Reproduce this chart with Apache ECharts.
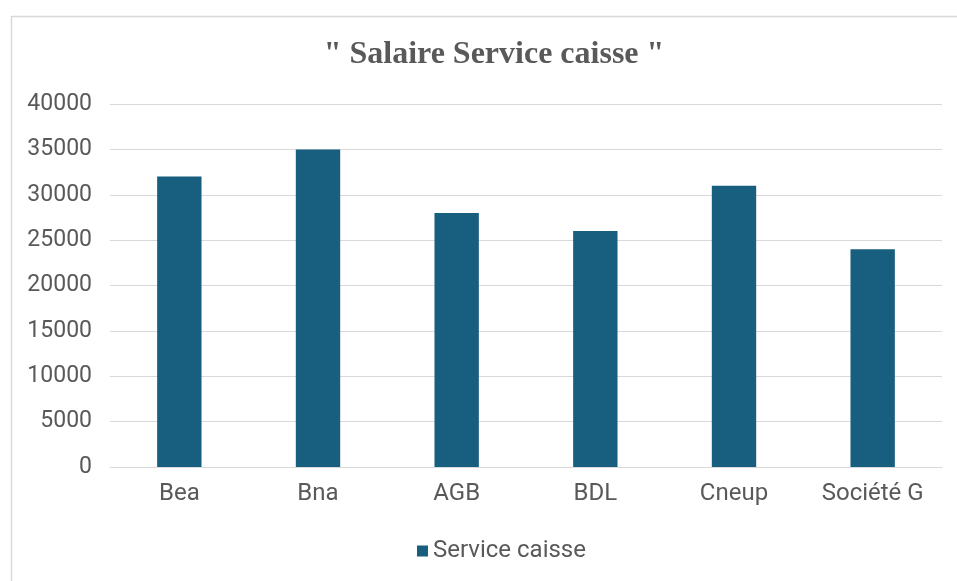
<!DOCTYPE html>
<html><head><meta charset="utf-8">
<script src="https://cdn.jsdelivr.net/npm/echarts@6/dist/echarts.min.js"></script>
<style>html,body{margin:0;padding:0;background:#fff}#c{width:957px;height:581px}</style>
</head><body><div id="c"></div>
<script>
const categories = ['Bea', 'Bna', 'AGB', 'BDL', 'Cneup', 'Société G'];
const serviceCaisse = [32000, 35000, 28000, 26000, 31000, 24000];
const seriesName = 'Service caisse';
const titleText = '" Salaire Service caisse "';

const labelFont = 'Roboto, Liberation Sans, Arial, sans-serif';
const chart = echarts.init(document.getElementById('c'));
chart.setOption({
  animation: false,
  backgroundColor: '#fff',
  graphic: [{
    type: 'rect', left: 9, top: 14,
    shape: { width: 960, height: 580 },
    style: { fill: 'none', stroke: '#d9d9d9', lineWidth: 1.5 }
  }],
  title: {
    text: titleText, left: 489, top: 34, textAlign: 'center',
    textStyle: { fontFamily: 'Liberation Serif, DejaVu Serif, serif', fontWeight: 'bold', fontSize: 32, color: '#595959' }
  },
  legend: {
    data: [seriesName], top: 534, left: 412,
    icon: 'rect', itemWidth: 11, itemHeight: 11, itemGap: 6,
    textStyle: { fontFamily: labelFont, fontSize: 24, color: '#595959' }
  },
  grid: { left: 110, right: 15, top: 104, bottom: 114, containLabel: false },
  xAxis: {
    type: 'category', data: categories,
    axisLine: { lineStyle: { color: '#d9d9d9', width: 1 } },
    axisTick: { show: false },
    axisLabel: { fontFamily: labelFont, fontSize: 24, color: '#595959', margin: 15 }
  },
  yAxis: {
    type: 'value', min: 0, max: 40000, interval: 5000,
    axisLine: { show: false }, axisTick: { show: false },
    axisLabel: { fontFamily: labelFont, fontSize: 23, color: '#595959', margin: 18, formatter: v => String(v) },
    splitLine: { lineStyle: { color: '#d9d9d9', width: 1 } }
  },
  series: [{
    name: seriesName, type: 'bar', data: serviceCaisse, barWidth: '32%',
    itemStyle: { color: '#175e7f' }
  }]
});
</script></body></html>
